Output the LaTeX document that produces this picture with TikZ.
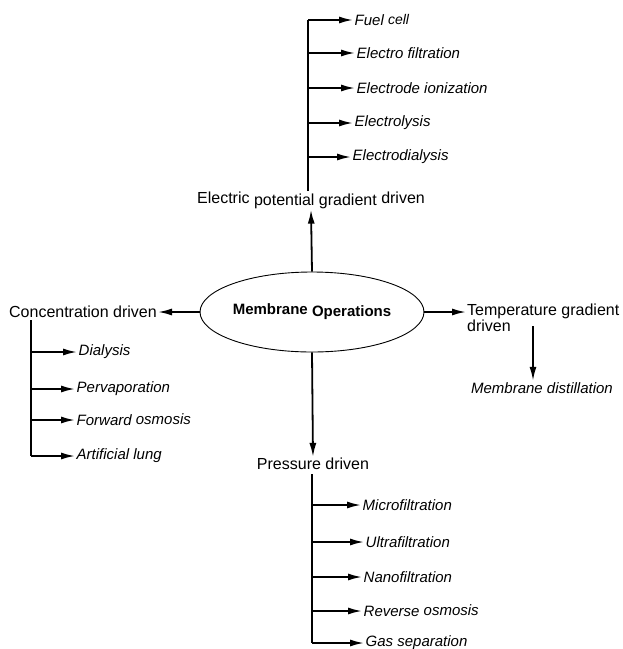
\documentclass[tikz,border=0pt]{standalone}
\usepackage{fontspec}
\setmainfont{Liberation Sans}
\usetikzlibrary{arrows.meta,shapes.geometric}
\begin{document}
\begin{tikzpicture}[x=1pt,y=-1pt,
  lab/.style={inner sep=1pt,font=\fontsize{16}{13}\selectfont},
  itl/.style={inner sep=1.5pt,anchor=west,font=\fontsize{15}{15}\selectfont\itshape},
  arr/.style={-{Latex[length=14pt,width=7pt]},line width=1.8pt},
  trunk/.style={line width=1.8pt}]
\useasboundingbox (0,0) rectangle (623,649);
% centre
\node[ellipse,draw,line width=0.9pt,minimum width=214pt,minimum height=80pt,inner sep=0pt,
  font=\fontsize{15}{15}\selectfont\bfseries] (E) at (312,312) {\raisebox{1pt}{Membrane} \raisebox{-1pt}{Operations}};
% top: electric
\node[lab] (elec) at (311,200) {\raisebox{1pt}{Electric} \raisebox{-1pt}{potential gradient} \raisebox{1pt}{driven}};
\draw[arr] (E.north) -- (elec.south);
\coordinate (t0) at (308,191);
\coordinate (t1) at (308,20);
\coordinate (t2) at (308,53);
\coordinate (t3) at (308,88);
\coordinate (t4) at (308,123);
\coordinate (t5) at (308,157);
\node[itl] (fuel) at (353,20) {Fuel \raisebox{1.5pt}{\fontsize{14}{14}\selectfont cell}};
\node[itl] (efil) at (355,53) {Electro filtration};
\node[itl] (eion) at (355,88) {Electrode ionization};
\node[itl] (elys) at (353,123) {Electrolysis};
\node[itl] (edia) at (351,157) {Electrodialysis};
\draw[trunk] (t0) -- (t1);
\draw[arr] (t1) -- (fuel.west);
\draw[arr] (t2) -- (efil.west);
\draw[arr] (t3) -- (eion.west);
\draw[arr] (t4) -- (elys.west);
\draw[arr] (t5) -- (edia.west);
% left: concentration
\node[lab,anchor=east] (conc) at (158,312) {Concentration driven};
\draw[arr] (E.west) -- (conc.east);
\coordinate (l0) at (31,320);
\coordinate (l1) at (31,352);
\coordinate (l2) at (31,389);
\coordinate (l3) at (31,420);
\coordinate (l4) at (31,456);
\node[itl] (dial) at (77,352) {Dialysis};
\node[itl] (perv) at (75,389) {Pervaporation};
\node[itl] (fwd) at (75,420) {Forward \raisebox{1pt}{osmosis}};
\node[itl] (lung) at (75,456) {Artificial lung};
\draw[trunk] (l0) -- (l4);
\draw[arr] (l1) -- (dial.west);
\draw[arr] (l2) -- (perv.west);
\draw[arr] (l3) -- (fwd.west);
\draw[arr] (l4) -- (lung.west);
% right: temperature
\node[lab,anchor=north west,align=left] (temp) at (466,303) {Temperature gradient\\driven};
\draw[arr] (E.east) -- (E.east -| temp.west);
\node[itl,anchor=center] (mdist) at (542,388) {Membrane distillation};
\coordinate (r0) at (533,326);
\draw[arr] (r0) -- (r0 |- mdist.north);
% bottom: pressure
\node[lab] (press) at (313,464) {Pressure driven};
\draw[arr] (E.south) -- (press.north);
\coordinate (b0) at (312,474);
\coordinate (b1) at (312,505);
\coordinate (b2) at (312,542);
\coordinate (b3) at (312,577);
\coordinate (b4) at (312,611);
\coordinate (b5) at (312,643);
\node[itl] (micro) at (361,505) {Microfiltration};
\node[itl] (ultra) at (364,542) {Ultrafiltration};
\node[itl] (nano) at (362,577) {Nanofiltration};
\node[itl] (ro) at (362,611) {Reverse \raisebox{1pt}{osmosis}};
\node[itl] (gas) at (364,643) {Gas separation};
\draw[trunk] (b0) -- (b5);
\draw[arr] (b1) -- (micro.west);
\draw[arr] (b2) -- (ultra.west);
\draw[arr] (b3) -- (nano.west);
\draw[arr] (b4) -- (ro.west);
\draw[arr] (b5) -- (gas.west);
\end{tikzpicture}
\end{document}
